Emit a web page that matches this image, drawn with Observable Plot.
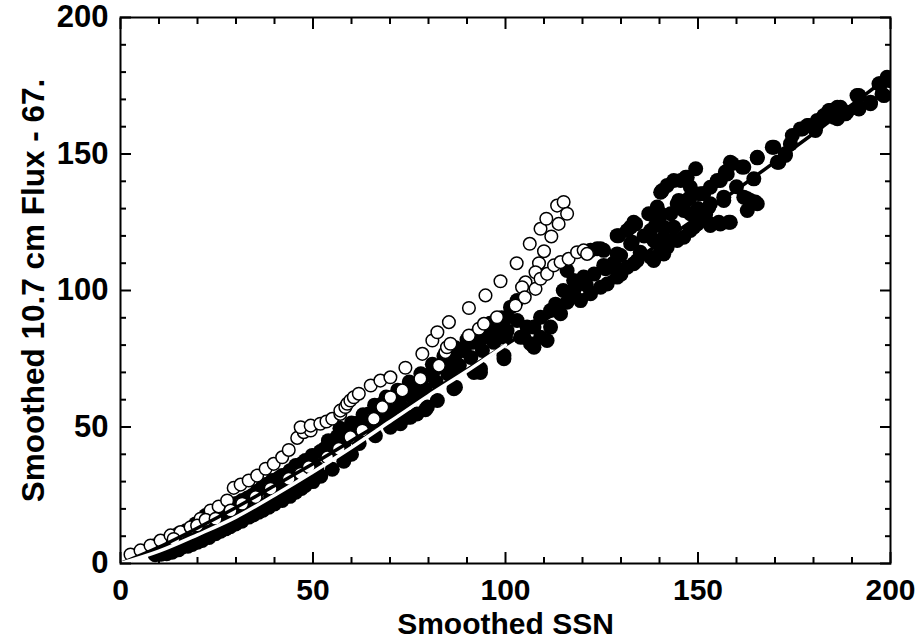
<!DOCTYPE html>
<html><head><meta charset="utf-8">
<script src="https://cdn.jsdelivr.net/npm/d3@7"></script>
<script src="https://cdn.jsdelivr.net/npm/@observablehq/plot@0.6"></script>
<style>body{margin:0;background:#fff} svg{display:block}</style>
</head><body><div id="chart"></div>
<script>
const xTitle = "Smoothed SSN";
const yTitle = "Smoothed 10.7 cm Flux - 67.";
const majorTicks = [0, 50, 100, 150, 200];
const minorTicks = [10,20,30,40,60,70,80,90,110,120,130,140,160,170,180,190];

// filled black circles [SSN, flux]
const filledPoints = [
 [9,3.2],[10.5,3.4],[12,3.6],[13.4,4.1],[15,5],[16,6],[17.5,6.3],[18.6,7],[20,7.8],[21.2,8.4],[23,9.5],[24.7,10.9],[26,11.8],[27.3,12.7],[28.5,13.5],[29.9,14.5],[31.5,15.5],[33.3,17],[34.5,17.8],[35.9,18.8],[37,19.5],[38.5,20.6],[40,21.8],[42,23.1],[44,24.6],[45.5,26.1],[47,27.5],[48,28.6],[50,30],
 [12,5.5],[15,7.5],[18,9.5],[21,11.5],[24,13.5],[27,15.5],[30,17.5],[33,19.5],[36,22],[39,24.5],[42,27],[45,29.5],[48,32],[51,35],[52,32],[55,34.5],[58,37.5],[60,40],
 [9,6.5],[11,7.5],[12.5,8.4],[14,9.5],[15.1,10.9],[17,12],[19.5,14.5],[21,15.5],[22.1,17.6],[24,18.5],[25.5,19.4],[27,20],[28.1,20.6],[30,22],[31.6,23.1],[33,24],[34.2,24.9],[35.5,26.5],[36.8,27.9],[38,29],[39.4,30.4],[41,31.2],[42,32.2],[44,34],[45.5,35.9],[47,36.5],[48,37.7],[49.8,39.6],
 [51.9,41],[53,42],[54,45],[55.4,43.8],[56.3,46.5],[57,49.5],[58,46],[59,48.5],[60,51.5],[61.5,51.4],[62,50],[63,54.5],[64.1,53.6],[64.5,54.8],[66,56],[66,58],[67,54],[68,58.5],[69,61],[70.1,57.3],[71,60],[72,63.5],[72.7,60.9],[74,62.5],[75,64],[75,66.5],[76,61.5],[77,65],[78,67],[78,69.5],[79,64],[80,69],[81,73],[81.4,70.7],[82.5,72],[84,74],[84,76],[85.5,75],[86,71],[87,76.5],[87,79],[88.3,78],[89.2,78],[90,80.5],[90,82],[91.5,81],[93,82],[93,85],[94.4,82.9],[95.2,84.1],[96,88],[96.5,85.3],[98.3,86.6],[99,83],[99,90],[100.4,85.3],[100.4,90.2],[101.3,93.9],[103,89],[103,96.3],
 [55,40.5],[58,43.5],[61,46.5],[64,49.5],[67,52],[70,54.5],[73,57.5],[76,60.5],[79,63.5],[82,66.5],[85,69.5],[88,72.5],[91,75.5],[94,78],[97,81],[100,83],
 [62,44],[66.2,46.8],[70.1,49.9],[72.7,51.2],[74.5,53.6],[75.3,53.6],[77,54.8],[79.2,56.3],[79.7,57.3],[82.3,59.7],[86.6,64],[87,64.6],[91.8,70],[93.5,70],[93.5,71.3],[99.6,75],[99.6,76.2],
 [103.9,82.9],[105.6,86.6],[107.4,79.2],[109.1,82.9],[110.8,81.7],[104.8,82.9],[106.5,80.5],[107.4,86.6],[111.7,86.6],[109.1,90.2],[111.7,92.7],[114.3,91.5],[116,95.7],[117.7,98.8],[119.5,96.3],[122.1,98.8],[124.7,101.2],[126.4,102.4],[129,104.9],[131.6,108.5],[134.2,111],[122.1,114.7],[124.7,115.3],[125.5,109.2],[129,120.1],[132.5,117.1],[131.6,122],[133.8,124.4],[129.9,112.8],[117.7,103.7],[120.3,104.9],[116,107.3],[113,95],[115,100],[118,101],[121,102],[123,106],[126,108],[128,110],[130,106],[123.8,115.3],
 [125.5,114.7],[129,113.4],[129.4,120.1],[132.9,117.7],[132.5,123.2],[133.3,125],[137.2,128.1],[137.7,122],[139.4,130.6],[140.7,136.6],[142,138.5],[145.5,140.3],[146.8,141.5],[149.4,144.6],[148,137.9],[144.6,131.8],[142.9,128.1],[146.3,129.3],[148,122],[149.8,124.4],[143.7,123.2],[141.1,119.5],[138.5,118.3],[142,115.9],[144.6,118.3],[153.2,124.4],[155.4,125],[158,125],[153.2,131.8],[156.7,133],[151.5,135.5],[155.8,140.3],[157.1,143.4],[158.9,146.5],[161.9,145.2],[162.8,133.6],[164.9,132.4],[162.8,129.3],[164.5,140.9],[165.4,148.6],[129,107.9],[133.3,109.8],[137.7,112.2],[141.1,113.4],[135,114],[139,124],[147,133],[150,130],[152,128],[160,138],[136,120],[140,127],
 [140.3,136],[143.7,140.3],[147.2,141.5],[145,133],[148,134.2],[150.6,135.4],[153.2,137.8],[155,140.3],[157.6,142.7],[158.4,147],[161.5,145.2],[161.9,134.2],[163.6,133],[165.4,131.8],[153.2,123.8],[155.8,124.4],[158.4,125],[138.5,111],[140.3,114.7],[142.9,118.3],[146.3,119.5],[148.9,123.2],[150.6,128.1],[152.8,130.5],[140.3,128.1],[141.1,123.2],[148,128.1],[156.7,134.2],
 [165.4,148.8],[169.3,152.5],[169.7,152.5],[170.6,147],[171,147],[172.7,149.5],[172.7,150.1],[174,153.7],[174.5,156.8],[176.6,159.2],[177.1,159.2],[178.4,160.4],[178.8,160.4],[180.5,158.6],[181,161],[181,162.3],[181.8,162.3],[182.7,164.1],[182.8,163.5],[184,165.9],[184.4,165.9],[185.3,163.5],[185.7,166.5],[186.2,167.1],[186.2,162.9],[187,167.1],[187.4,164.7],[188.3,164.7],[188.7,165.3],[191.3,171.4],[191.8,171.4],[191.8,167.1],[191.8,166.5],[194.8,168.4],[194.8,169],[197,175.7],[197.4,175.7],[197.8,172],[198.3,171.4],[199.1,178.1],[199.6,176.9]
];

// open circles [SSN, flux]
const openPoints = [
 [2.6,3.3],[5.2,4.8],[7.8,6.6],[10.4,8.4],[13,10.3],[15.6,11.5],[18.2,13.3],[20.8,16.4],[23.4,19.4],[25.5,20.9],[27.7,23.1],[29.4,27.7],[31.2,28.9],[33.3,30.4],[35.5,32.2],[37.7,34.7],[39.8,36.5],[42,38.9],[43.7,41.6],[45.9,46],[47.6,48.1],[49.4,48.7],
 [46.8,49.9],[49.4,50.5],[51.9,51.2],[53.5,52],[55,53],[57.1,54.8],[57.1,56],[58.4,57.3],[58.9,58.5],[59.7,59.7],[60.6,60.9],[61.9,62.2],[65,65.2],[67.5,67],[70.1,68.2],[74,71.7],[78.4,76.8],[81,81.7],[82.3,84.7],[85.3,88.4],[90.5,93.6],[94.8,98.2],[98.7,103.4],[102.9,110],[106.3,117.1],[109.1,122.6],[110.6,126.3],[113.4,131.1],[115.1,132.4],[116,128.1],[113.8,124.4],[111.9,119.8],[110,114.4],[108.7,110],[107.8,106.7],[105.2,103],[104.3,101.2],[107.8,100.6],
 [13.8,9],[19.9,13.9],[22.1,16],[24.7,16.4],[28.6,19.4],[31.6,21.9],[35.1,24.3],[39,27.4],[43.7,31],[46.8,32.9],[48.9,35.3],[53.7,38.9],[56.7,42],[59.7,46.3],[62.8,48.7],[65.8,53],[68,57.3],[70.1,60.9],[73.2,63.4],[77.9,67.7],[82.7,72.5],[84.4,77.4],[84.8,79.2],[85.7,80.5],[90.5,83.5],[93.1,86],[94.4,87.8],[97.8,90.2],[102.6,94.5],[105,97.5],[109.1,104.3],[110.8,106.1],[112.6,109.2],[114.3,110.4],[116.4,111.6],[118.6,114],[120.3,114.7],[121.2,113.4]
];

// black fitted curve
const fitSSN  = [0,10,20,30,40,50,60,70,80,90,100,110,120,130,140,150,160,170,180,190,200];
const fitFlux = [0,6,13,20.5,28.5,36.5,45,53.5,62.5,71,80,89,98.2,107.6,117.2,127,136.9,147.1,157.5,168.1,178.8];
// white curve
const lowSSN  = [0,10,20,30,40,50,60,70,80,90,100];
const lowFlux = [0,4.5,10.5,17,25,33.5,42.5,52,61.5,70.5,80];

const filled = filledPoints.map(([s, f]) => ({s, f}));
const open = openPoints.map(([s, f]) => ({s, f}));
const fit = fitSSN.map((s, i) => ({s, f: fitFlux[i]}));
const low = lowSSN.map((s, i) => ({s, f: lowFlux[i]}));

const blank = () => "";
const chart = Plot.plot({
  width: 919, height: 639,
  marginLeft: 120, marginRight: 29, marginTop: 17, marginBottom: 76,
  style: {fontFamily: "'Liberation Sans', Arial, Helvetica, sans-serif", background: "white", color: "black"},
  x: {domain: [0, 200]},
  y: {domain: [0, 200]},
  marks: [
    Plot.dot(filled, {x: "s", y: "f", r: 7.5, fill: "black", stroke: null, clip: true}),
    Plot.dot(open, {x: "s", y: "f", r: 6.3, fill: "white", stroke: "black", strokeWidth: 1.5, clip: true}),
    Plot.line(fit, {x: "s", y: "f", stroke: "black", strokeWidth: 3.5, curve: "monotone-x", clip: true}),
    Plot.line(low, {x: "s", y: "f", stroke: "white", strokeWidth: 3.5, curve: "monotone-x", clip: true}),
    Plot.frame({stroke: "black", strokeWidth: 2}),
    Plot.axisX(majorTicks, {anchor: "bottom", tickSize: -11, strokeWidth: 2, tickFormat: blank, label: null}),
    Plot.axisX(minorTicks, {anchor: "bottom", tickSize: -6, strokeWidth: 2, tickFormat: blank, label: null}),
    Plot.axisX(majorTicks, {anchor: "top", tickSize: -11, strokeWidth: 2, tickFormat: blank, label: null}),
    Plot.axisX(minorTicks, {anchor: "top", tickSize: -6, strokeWidth: 2, tickFormat: blank, label: null}),
    Plot.axisY(majorTicks, {anchor: "left", tickSize: -11, strokeWidth: 2, tickFormat: blank, label: null}),
    Plot.axisY(minorTicks, {anchor: "left", tickSize: -6, strokeWidth: 2, tickFormat: blank, label: null}),
    Plot.axisY(majorTicks, {anchor: "right", tickSize: -11, strokeWidth: 2, tickFormat: blank, label: null}),
    Plot.axisY(minorTicks, {anchor: "right", tickSize: -6, strokeWidth: 2, tickFormat: blank, label: null}),
    Plot.axisX(majorTicks, {anchor: "bottom", tickSize: 0, tickPadding: 15, fontSize: 30, fontWeight: "bold", label: null}),
    Plot.axisY(majorTicks, {anchor: "left", tickSize: 0, tickPadding: 12, fontSize: 31, fontWeight: "bold", label: null}),
    Plot.text([xTitle], {frameAnchor: "bottom", dy: 49, lineAnchor: "top", textAnchor: "middle", fontSize: 30, fontWeight: "bold", text: d => d}),
    Plot.text([yTitle], {frameAnchor: "left", rotate: -90, dx: -99, lineAnchor: "top", textAnchor: "middle", fontSize: 31.5, fontWeight: "bold", text: d => d})
  ]
});
document.getElementById("chart").appendChild(chart);
</script>
</body></html>
